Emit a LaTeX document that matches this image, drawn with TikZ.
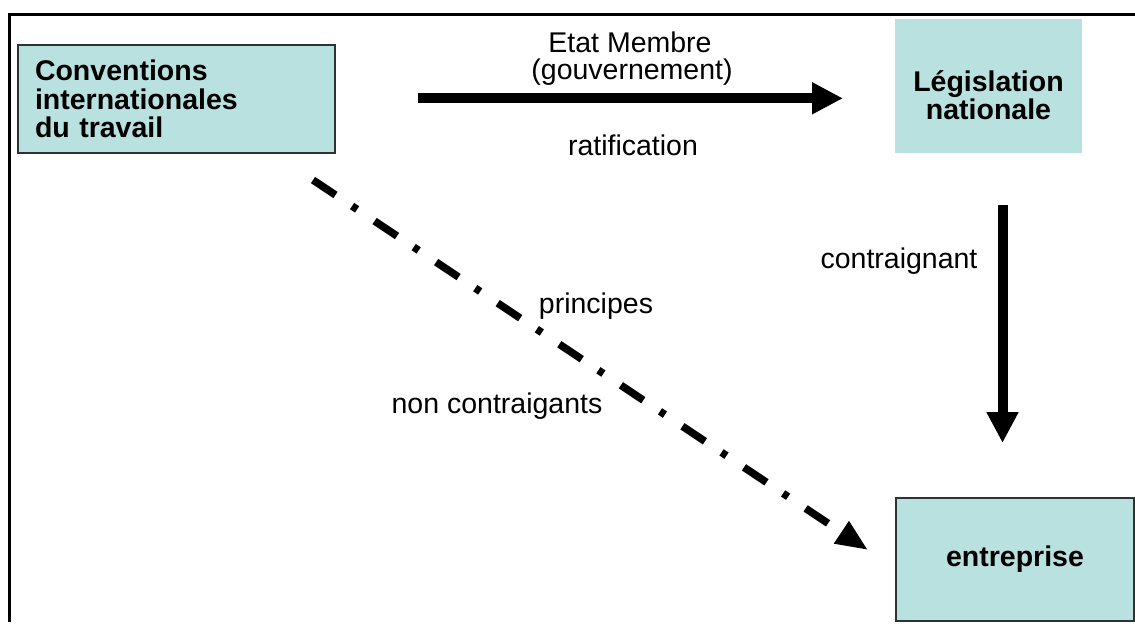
\documentclass[tikz,border=0pt]{standalone}
\usepackage{fontspec}
\setmainfont{Liberation Sans}
\usetikzlibrary{arrows.meta}
\definecolor{boxfill}{RGB}{185,225,224}
\definecolor{boxline}{RGB}{45,50,50}
\begin{document}
\begin{tikzpicture}[x=1pt,y=-1pt,
  every node/.style={font=\fontsize{28.5}{28.5}\selectfont, inner sep=0pt, outer sep=0pt},
  boldtext/.style={font=\fontsize{28.5}{28.5}\selectfont\bfseries},
  box/.style={fill=boxfill, draw=boxline, line width=1.5pt},
  plainbox/.style={fill=boxfill},
  lbl/.style={anchor=base},
  bigarrow/.style={line width=10pt, -{Triangle[length=31pt,width=30pt]}},
  dasharrow/.style={line width=7.5pt, dash pattern=on 27pt off 20pt on 6pt off 21pt,
    -{Triangle[length=32pt,width=25pt]}}
]
\useasboundingbox (0,0) rectangle (1135,626);
% frame
\draw[line width=3pt, line join=miter] (1135,14.5) -- (9.5,14.5) -- (9.5,622);
% boxes
\node[box, boldtext, minimum width=317pt, minimum height=108pt, text width=283pt, align=left]
  (conv) at (176.5,99) {Conventions\\internationales\\du travail};
\node[plainbox, boldtext, minimum width=187pt, minimum height=134pt, align=center]
  (leg) at (988.5,86) {\rule{0pt}{39pt}Législation\\nationale};
\node[box, boldtext, minimum width=238pt, minimum height=123pt]
  (ent) at (1015,559.5) {entreprise};
% labels
\node[lbl] (etat) at (630,53) {Etat Membre};
\node[lbl] (gouv) at (632,79) {(gouvernement)};
\node[lbl] (ratif) at (633,155) {ratification};
\node[lbl] (contr) at (899,268) {contraignant};
\node[lbl] (princ) at (596,313) {principes};
\node[lbl] (nonc) at (497,413) {non contraigants};
% connectors
\coordinate (h1) at (418,98.3);
\coordinate (h2) at (843,98.3);
\coordinate (v1) at (1002.5,205);
\coordinate (v2) at (1002.5,443);
\coordinate (d1) at (313,180);
\coordinate (d2) at (868,550);
\draw[bigarrow] (h1) -- (h2);
\draw[bigarrow] (v1) -- (v2);
\draw[dasharrow] (d1) -- (d2);
\end{tikzpicture}
\end{document}
